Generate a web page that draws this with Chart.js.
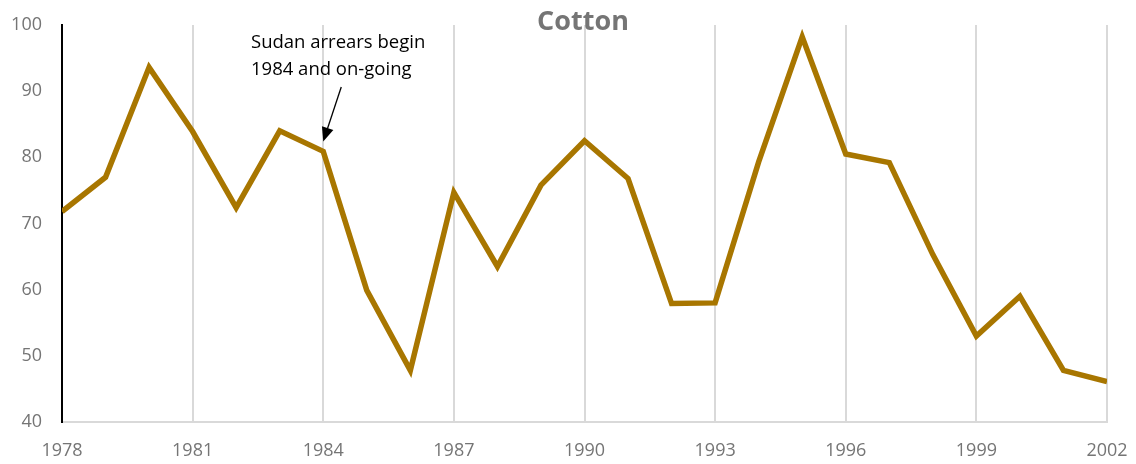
<!DOCTYPE html>
<html lang="en">
<head>
  <meta charset="UTF-8">
  <title>Cotton</title>
  <script src="https://cdn.jsdelivr.net/npm/chart.js"></script>
  <style>
    html, body { margin: 0; padding: 0; background: #fff; }
    #wrap { width: 1136px; height: 464px; }
  </style>
</head>
<body>
  <div id="wrap"><canvas id="cottonChart"></canvas></div>
  <script>
    // values
    const years = [1978, 1979, 1980, 1981, 1982, 1983, 1984, 1985, 1986, 1987, 1988, 1989,
      1990, 1991, 1992, 1993, 1994, 1995, 1996, 1997, 1998, 1999, 2000, 2001, 2002];
    const cotton = [71.8, 77.0, 93.6, 83.9, 72.4, 84.0, 80.9, 59.9, 47.8, 74.7, 63.5, 75.8,
      82.5, 76.8, 57.9, 58.0, 79.3, 98.2, 80.5, 79.2, 65.3, 53.0, 59.0, 47.8, 46.1];
    const annoText = ['Sudan arrears begin', '1984 and on-going'];
    const annoYear = 1984;

    const grey = '#757575';
    const fontFam = '"Open Sans", sans-serif';

    // title + annotation drawn on top
    const extras = {
      id: 'extras',
      afterDraw(chart) {
        const c = chart.ctx;
        const xs = chart.scales.x, ys = chart.scales.y;
        c.save();
        c.fillStyle = grey;
        c.font = 'bold 27px ' + fontFam;
        c.textAlign = 'center';
        c.textBaseline = 'middle';
        c.fillText('Cotton', 583, 22);

        c.fillStyle = '#000';
        c.font = '18.5px ' + fontFam;
        c.textAlign = 'left';
        c.fillText(annoText[0], 251, 43);
        c.fillText(annoText[1], 251, 70);

        // arrow pointing at the 1984 value
        const tx = xs.getPixelForValue(annoYear);
        const ty = ys.getPixelForValue(cotton[years.indexOf(annoYear)]) - 10;
        const sx = tx + 18, sy = 87;
        const ang = Math.atan2(ty - sy, tx - sx);
        c.strokeStyle = '#000';
        c.lineWidth = 1.3;
        c.beginPath();
        c.moveTo(sx, sy);
        c.lineTo(tx - 12 * Math.cos(ang), ty - 12 * Math.sin(ang));
        c.stroke();
        c.beginPath();
        c.moveTo(tx, ty);
        c.lineTo(tx - 14 * Math.cos(ang) + 6 * Math.sin(ang), ty - 14 * Math.sin(ang) - 6 * Math.cos(ang));
        c.lineTo(tx - 14 * Math.cos(ang) - 6 * Math.sin(ang), ty - 14 * Math.sin(ang) + 6 * Math.cos(ang));
        c.closePath();
        c.fill();
        c.restore();
      }
    };

    new Chart(document.getElementById('cottonChart'), {
      type: 'line',
      data: {
        datasets: [{
          label: 'Cotton',
          data: years.map((y, i) => ({ x: y, y: cotton[i] })),
          borderColor: '#a87600',
          borderWidth: 5.5,
          pointRadius: 0,
          tension: 0,
          borderJoinStyle: 'miter'
        }]
      },
      options: {
        responsive: true,
        maintainAspectRatio: false,
        animation: false,
        layout: { padding: { top: 25, right: 29, left: 0, bottom: 0 } },
        plugins: { legend: { display: false }, tooltip: { enabled: false } },
        scales: {
          x: {
            type: 'linear',
            min: 1978,
            max: 2002,
            afterFit(s) {
              s.height = 42;
              s.paddingLeft = 0; s.paddingRight = 0;
            },
            grid: { color: '#d9d9d9', lineWidth: 2, drawTicks: false },
            border: { color: '#d9d9d9', width: 2 },
            ticks: {
              stepSize: 3,
              padding: 18,
              color: grey,
              font: { family: fontFam, size: 18 },
              callback: v => String(v)
            }
          },
          y: {
            min: 40,
            max: 100,
            afterFit(s) {
              s.width = 62;
              s.paddingTop = 0; s.paddingBottom = 0;
            },
            grid: { display: false, drawTicks: false },
            border: { color: '#000', width: 2 },
            ticks: {
              stepSize: 10,
              padding: 20,
              color: grey,
              font: { family: fontFam, size: 18 }
            }
          }
        }
      },
      plugins: [extras]
    });
  </script>
</body>
</html>
